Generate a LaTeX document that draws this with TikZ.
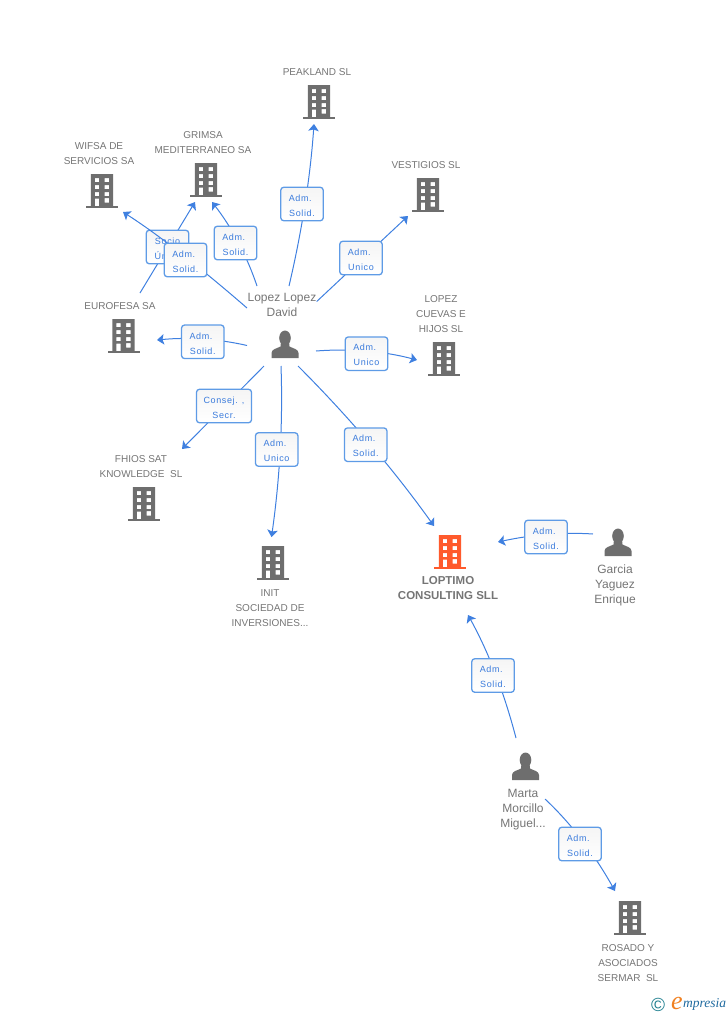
\documentclass[tikz,border=0pt]{standalone}
\usepackage{fontspec}
\setmainfont{Liberation Sans}
\newfontfamily\lblfont[LetterSpace=7]{Liberation Sans}
\newfontfamily\logofont{Liberation Serif}
\usetikzlibrary{arrows.meta,calc}
\definecolor{edgeblue}{HTML}{3F80E0}
\definecolor{boxblue}{HTML}{5E9BE6}
\definecolor{lbltext}{HTML}{3A7BDC}
\definecolor{icongray}{HTML}{6E6E6E}
\definecolor{txtgray}{HTML}{757575}
\definecolor{mainorange}{HTML}{FF5A2C}
\definecolor{logoteal}{HTML}{1F7F8F}
\definecolor{logoorange}{HTML}{F08020}
\definecolor{logoblue}{HTML}{1F6A9F}
\newcommand\lbltwo[2]{\rule{0pt}{9.5pt}#1\\#2}
\newcommand\admword{Adm.\kern3.5pt}
\newcommand\qlink[3]{\draw[arrowlink] (#1) .. controls ($(#1)!0.6667!(#2)$) and ($(#3)!0.6667!(#2)$) .. (#3);}
\tikzset{
  x=1pt,y=-1pt,
  iconbox/.style={minimum width=32pt,minimum height=34pt,inner sep=0pt,draw=none},
  nametxt/.style={align=center,font=\fontsize{10}{15}\selectfont,text=txtgray,inner sep=0pt,yshift=-0.7pt},
  persontxt/.style={nametxt,font=\fontsize{12}{15}\selectfont},
  mainname/.style={align=center,font=\fontsize{11.5}{14.5}\selectfont\bfseries,text=txtgray,inner sep=0pt},
  relbox/.style={draw=boxblue,line width=1.3pt,rounded corners=3pt,top color=black!4,bottom color=white,
    minimum width=42.5pt,minimum height=33.5pt,inner sep=0pt,align=center,text=lbltext,
    font=\fontsize{9}{15}\selectfont\lblfont},
  linkline/.style={draw=edgeblue,line width=1pt},
  arrowlink/.style={linkline,-{Stealth[length=7pt,width=10.5pt,inset=1.5pt]}},
  bldg/.pic={
    \fill[pic actions] (-16,16.5) rectangle (16,14.7);
    \fill[pic actions,even odd rule] (-11.2,-17) rectangle (11.2,15)
      (-7.2,-13) rectangle (-2.8,-9) (2.6,-13) rectangle (7,-9)
      (-7.2,-6) rectangle (-2.8,-2) (2.6,-6) rectangle (7,-2)
      (-7.2,1) rectangle (-2.8,5) (2.6,1) rectangle (7,5)
      (-7.2,7.5) rectangle (-2.8,15) (2.6,7) rectangle (7,11.5);
  },
  personpic/.pic={
    \fill[pic actions] (0,-6.5) ellipse (5.8pt and 7.5pt);
    \fill[pic actions] (-13.5,13.5) -- (-13.5,8.5) .. controls (-13.5,4.5) and (-8,4) .. (-4.5,2)
      -- (-4,-3) -- (4,-3) -- (4.5,2) .. controls (8,4) and (13.5,4.5) .. (13.5,8.5) -- (13.5,13.5) -- cycle;
  }
}
\begin{document}
\begin{tikzpicture}
\useasboundingbox (0,0) rectangle (728,1015);
% icons
\node[iconbox] (peak) at (319,102) {};  \pic[fill=icongray] at (peak) {bldg};
\node[iconbox] (wifsa) at (102,191) {}; \pic[fill=icongray] at (wifsa) {bldg};
\node[iconbox] (grimsa) at (206,180) {}; \pic[fill=icongray] at (grimsa) {bldg};
\node[iconbox] (vest) at (428,195) {};  \pic[fill=icongray] at (vest) {bldg};
\node[iconbox] (euro) at (123.5,336) {}; \pic[fill=icongray] at (euro) {bldg};
\node[iconbox] (cuevas) at (444,359) {}; \pic[fill=icongray] at (cuevas) {bldg};
\node[iconbox] (fhios) at (144,504) {}; \pic[fill=icongray] at (fhios) {bldg};
\node[iconbox] (init) at (273,563) {};  \pic[fill=icongray] at (init) {bldg};
\node[iconbox] (main) at (450,552) {};  \pic[fill=mainorange] at (main) {bldg};
\node[iconbox] (rosado) at (630,918) {}; \pic[fill=icongray] at (rosado) {bldg};
\node[iconbox] (david) at (285,344.5) {}; \pic[fill=icongray] at (david) {personpic};
\node[iconbox] (garcia) at (618,542.5) {}; \pic[fill=icongray] at (garcia) {personpic};
\node[iconbox] (marta) at (525.5,766.5) {}; \pic[fill=icongray] at (marta) {personpic};
% names
\node[nametxt] (tpeak) at (317,71) {PEAKLAND SL};
\node[nametxt] (twifsa) at (99,152.5) {WIFSA DE\\SERVICIOS SA};
\node[nametxt] (tgrimsa) at (203,141.5) {GRIMSA\\MEDITERRANEO SA};
\node[nametxt] (tvest) at (426,164) {VESTIGIOS SL};
\node[nametxt] (teuro) at (120,305) {EUROFESA SA};
\node[nametxt] (tcuevas) at (441,313) {LOPEZ\\CUEVAS E\\HIJOS SL};
\node[nametxt] (tfhios) at (141,465.5) {FHIOS SAT\\KNOWLEDGE\ \ SL};
\node[nametxt] (tinit) at (270,607) {INIT\\SOCIEDAD DE\\INVERSIONES...};
\node[mainname] (tmain) at (448,588) {LOPTIMO\\CONSULTING SLL};
\node[persontxt] (tgarcia) at (615,585) {Garcia\\Yaguez\\Enrique};
\node[persontxt] (tmarta) at (523,809) {Marta\\Morcillo\\Miguel...};
\node[nametxt] (trosado) at (628,962) {ROSADO Y\\ASOCIADOS\\SERMAR\ \ SL};
\node[persontxt] (tdavid) at (282,304.5) {Lopez Lopez\\David};
% connector free ends and bend points
\coordinate (s1) at (289,286);   \coordinate (e1) at (314,124);   \coordinate (c1) at (308.5,203);
\coordinate (s2) at (316.7,301.5); \coordinate (e2) at (408,216);
\coordinate (s3) at (316,351);   \coordinate (e3) at (417,360);   \coordinate (c3) at (368,347);
\coordinate (s4) at (298,366);   \coordinate (e4) at (434,526);   \coordinate (c4) at (374,442);
\coordinate (s5) at (281,366);   \coordinate (e5) at (271.5,537); \coordinate (c5) at (284,449);
\coordinate (s6) at (264,366);   \coordinate (e6) at (182,449);
\coordinate (s7) at (247,345.5); \coordinate (e7) at (157,340);   \coordinate (c7) at (204,335.5);
\coordinate (s8) at (140,293);   \coordinate (e8) at (195,202);
\coordinate (s9) at (247,308);   \coordinate (e9) at (123,212);   \coordinate (c9) at (175,245.5);
\coordinate (s10) at (257,286);  \coordinate (e10) at (212,202);  \coordinate (c10) at (241.5,240);
\coordinate (s11) at (593,534);  \coordinate (e11) at (498,542);  \coordinate (c11) at (548.5,531);
\coordinate (s12) at (516,738);  \coordinate (e12) at (468,615);  \coordinate (c12) at (498,669);
\coordinate (s13) at (545,799);  \coordinate (e13) at (615,891);  \coordinate (c13) at (584,835.5);
% label positions
\coordinate (p1) at (302,204);
\coordinate (p2) at (361,258);
\coordinate (p3) at (366.5,353.7);
\coordinate (p4) at (365.7,444.7);
\coordinate (p5) at (276.7,449.5);
\coordinate (p6) at (224,406);
\coordinate (p7) at (202.8,341.8);
\coordinate (p8) at (167.5,247);
\coordinate (p9) at (185.5,260);
\coordinate (p10) at (235.5,243);
\coordinate (p11) at (546,537);
\coordinate (p12) at (493,675.5);
\coordinate (p13) at (580,844);
% connectors
\qlink{s1}{c1}{e1}
\draw[arrowlink] (s2) -- (e2);
\qlink{s3}{c3}{e3}
\qlink{s4}{c4}{e4}
\qlink{s5}{c5}{e5}
\draw[arrowlink] (s6) -- (e6);
\qlink{s7}{c7}{e7}
\draw[arrowlink] (s8) -- (e8);
\node[relbox] (l8) at (p8) {\lbltwo{Socio}{Único}};
\qlink{s9}{c9}{e9}
\qlink{s10}{c10}{e10}
\qlink{s11}{c11}{e11}
\qlink{s12}{c12}{e12}
\qlink{s13}{c13}{e13}
% labels
\node[relbox] (l1) at (p1) {\lbltwo{\admword}{Solid.}};
\node[relbox] (l2) at (p2) {\lbltwo{\admword}{Unico}};
\node[relbox] (l3) at (p3) {\lbltwo{\admword}{Unico}};
\node[relbox] (l4) at (p4) {\lbltwo{\admword}{Solid.}};
\node[relbox] (l5) at (p5) {\lbltwo{\admword}{Unico}};
\node[relbox,minimum width=55pt] (l6) at (p6) {\lbltwo{Consej. ,}{Secr.}};
\node[relbox] (l7) at (p7) {\lbltwo{\admword}{Solid.}};
\node[relbox] (l9) at (p9) {\lbltwo{\admword}{Solid.}};
\node[relbox] (l10) at (p10) {\lbltwo{\admword}{Solid.}};
\node[relbox] (l11) at (p11) {\lbltwo{\admword}{Solid.}};
\node[relbox] (l12) at (p12) {\lbltwo{\admword}{Solid.}};
\node[relbox] (l13) at (p13) {\lbltwo{\admword}{Solid.}};
% logo
\node[inner sep=0pt,text=logoteal,font=\fontsize{19}{19}\selectfont] (copy) at (658,1004.5) {©};
\node[inner sep=0pt,anchor=base west,text=logoorange,font=\fontsize{26}{26}\selectfont\logofont\itshape] (loge) at (671,1009.5) {e};
\node[inner sep=0pt,anchor=base west,text=logoblue,font=\fontsize{13.5}{13.5}\selectfont\logofont\itshape] (logt) at (683,1007) {mpresia};
\end{tikzpicture}
\end{document}
